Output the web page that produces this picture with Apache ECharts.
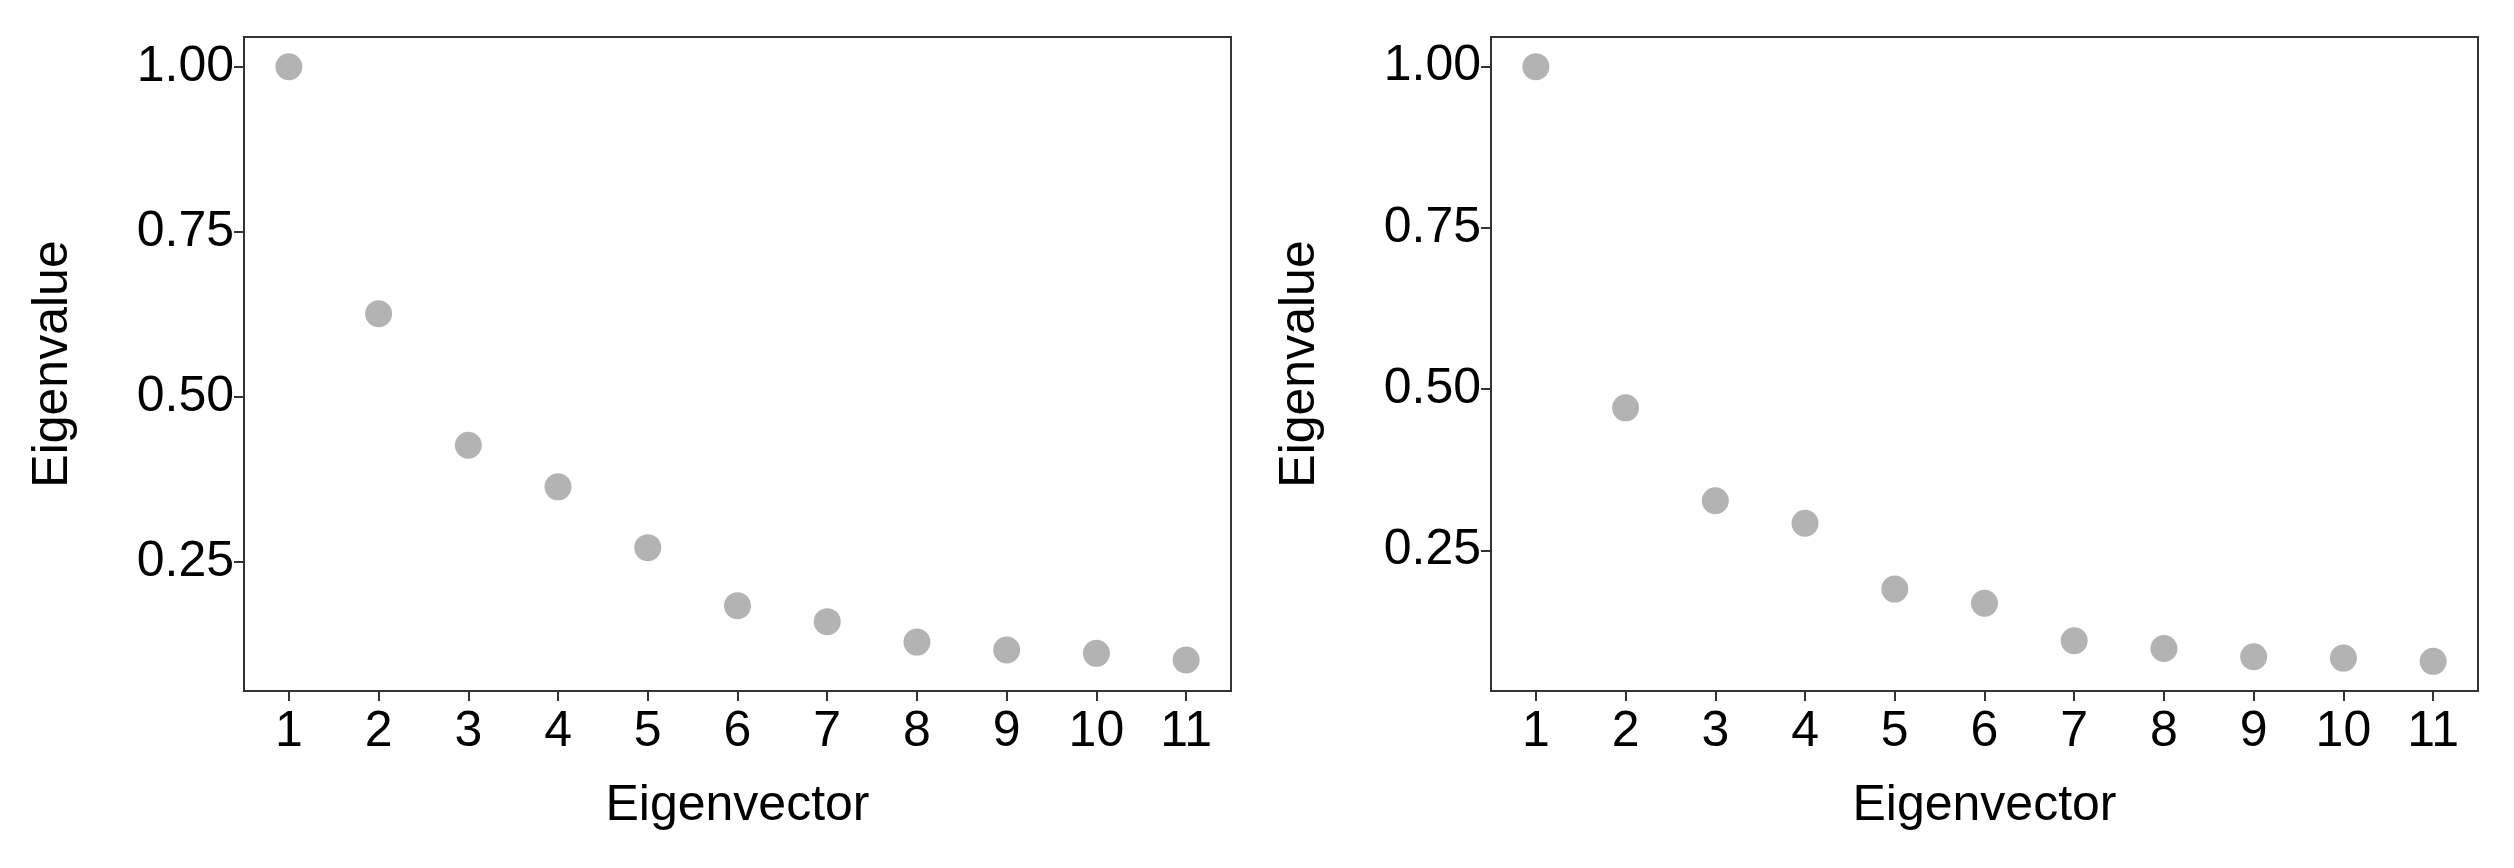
<!DOCTYPE html>
<html><head><meta charset="utf-8">
<script src="https://cdn.jsdelivr.net/npm/echarts@6/dist/echarts.min.js"></script>
<style>html,body{margin:0;padding:0;background:#fff}#c{width:2514px;height:868px}</style>
</head><body><div id="c"></div>
<script>
const eigenvectors = [1,2,3,4,5,6,7,8,9,10,11];
const leftValues  = [1.00,0.626,0.427,0.364,0.272,0.184,0.160,0.129,0.117,0.112,0.102];
const rightValues = [1.00,0.471,0.327,0.292,0.190,0.168,0.110,0.098,0.085,0.083,0.078];
const yTicks = [0.25,0.50,0.75,1.00];

const font = 'Liberation Sans, Arial, sans-serif';
function xAxis(i){return {gridIndex:i,type:'value',min:0.5,max:11.5,name:'Eigenvector',nameLocation:'middle',nameGap:90,
  nameTextStyle:{fontFamily:font,fontSize:50,color:'#000'},
  axisLine:{show:false},splitLine:{show:false},
  axisTick:{show:true,length:10,lineStyle:{color:'#333',width:2},customValues:eigenvectors},
  axisLabel:{customValues:eigenvectors,fontFamily:font,fontSize:50,color:'#000',margin:16}};}
function yAxis(i,min,max){return {gridIndex:i,type:'value',min:min,max:max,name:'Eigenvalue',nameLocation:'middle',nameGap:166,
  nameTextStyle:{fontFamily:font,fontSize:50,color:'#000'},
  axisLine:{show:false},splitLine:{show:false},
  axisTick:{show:true,length:10,lineStyle:{color:'#333',width:2},customValues:yTicks},
  axisLabel:{customValues:yTicks,fontFamily:font,fontSize:50,color:'#000',margin:10,formatter:v=>v.toFixed(2)}};}
const chart = echarts.init(document.getElementById('c'));
chart.setOption({
  animation:false,
  grid:[{left:244,top:37,width:987,height:654,show:true,borderColor:'#333',borderWidth:2,backgroundColor:'transparent'},
        {left:1491,top:37,width:987,height:654,show:true,borderColor:'#333',borderWidth:2,backgroundColor:'transparent'}],
  xAxis:[xAxis(0),xAxis(1)],
  yAxis:[yAxis(0,0.055,1.045),yAxis(1,0.032,1.046)],
  series:[
    {type:'scatter',xAxisIndex:0,yAxisIndex:0,symbolSize:27,itemStyle:{color:'#b3b3b3',opacity:1},data:eigenvectors.map((x,i)=>[x,leftValues[i]])},
    {type:'scatter',xAxisIndex:1,yAxisIndex:1,symbolSize:27,itemStyle:{color:'#b3b3b3',opacity:1},data:eigenvectors.map((x,i)=>[x,rightValues[i]])}
  ]
});
</script></body></html>
